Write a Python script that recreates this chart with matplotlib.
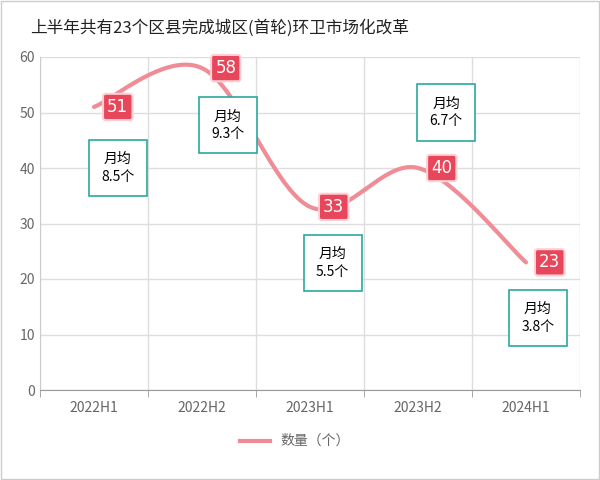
import matplotlib
matplotlib.use("Agg")
import matplotlib.pyplot as plt
import numpy as np
from matplotlib.patches import Rectangle

plt.rcParams['font.family'] = ['Noto Sans CJK SC', 'DejaVu Sans']

categories = ["2022H1", "2022H2", "2023H1", "2023H2", "2024H1"]
values = [51, 58, 33, 40, 23]
monthly = ["8.5", "9.3", "5.5", "6.7", "3.8"]
box_y = [40, 47.7, 22.9, 50, 13]
box_x = [0.22, 1.24, 2.21, 3.26, 4.11]

fig = plt.figure(figsize=(6, 4.8), dpi=100)
fig.patches.append(Rectangle((0.002, 0.002), 0.996, 0.996, transform=fig.transFigure,
                             fill=False, edgecolor='#cccccc', lw=1))
ax = fig.add_axes([40/600, 1-390/480, 540/600, 333/480])
ax.set_xlim(-0.5, 4.5)
ax.set_ylim(0, 60)
ax.set_yticks(range(0, 61, 10))
ax.set_xticks(range(5))
ax.set_xticklabels(categories)
ax.set_xticks(np.arange(-0.5, 4.6, 1), minor=True)
ax.tick_params(axis='x', which='major', length=0, pad=8, labelcolor='#666666', labelsize=10)
ax.tick_params(axis='x', which='minor', length=5, color='#999999')
ax.tick_params(axis='y', length=0, labelcolor='#666666', labelsize=10)
ax.grid(True, which='minor', axis='x', color='#dddddd', lw=1)
ax.grid(True, which='major', axis='y', color='#dddddd', lw=1)
for s in ['top', 'right']:
    ax.spines[s].set_visible(False)
ax.spines['left'].set_color('#cccccc')
ax.spines['bottom'].set_color('#999999')
ax.set_axisbelow(True)

# smooth curve (Catmull-Rom)
x = np.arange(len(values), dtype=float)
y = np.array(values, dtype=float)
px = np.concatenate([[x[0]], x, [x[-1]]])
py = np.concatenate([[y[0]], y, [y[-1]]])
cx, cy = [], []
t = np.linspace(0, 1, 40)
for i in range(1, len(px)-2):
    for arr, out in ((px, cx), (py, cy)):
        p0, p1, p2, p3 = arr[i-1], arr[i], arr[i+1], arr[i+2]
        out.extend(0.5*((2*p1) + (-p0+p2)*t + (2*p0-5*p1+4*p2-p3)*t**2 + (-p0+3*p1-3*p2+p3)*t**3))
ax.plot(cx, cy, color='#f08c96', lw=3, solid_capstyle='round', zorder=3)

for i, v in enumerate(values):
    ax.text(i+0.22, v, str(v), ha='center', va='center', color='white', fontsize=12,
            family=['DejaVu Sans'], zorder=5,
            bbox=dict(boxstyle='round,pad=0.25,rounding_size=0.15', fc='#e8465a', ec='#ffd0d6', lw=1.5))
    ax.text(box_x[i], box_y[i], "月均\n" + monthly[i] + "个", ha='center', va='center',
            fontsize=10, linespacing=1.3, zorder=5, family=['Noto Sans CJK SC'],
            bbox=dict(boxstyle='square,pad=0.9', fc='white', ec='#2aa8a0', lw=1.2))

fig.text(30/600, 1-28/480, "上半年共有23个区县完成城区(首轮)环卫市场化改革", fontsize=12,
         va='center', ha='left', color='#222222')
fig.lines.append(plt.Line2D([240/600, 270/600], [1-441/480]*2, transform=fig.transFigure,
                            color='#f08c96', lw=3))
fig.text(280/600, 1-441/480, "数量（个）", fontsize=10, va='center', color='#666666')
fig.savefig("out.png", dpi=100)
